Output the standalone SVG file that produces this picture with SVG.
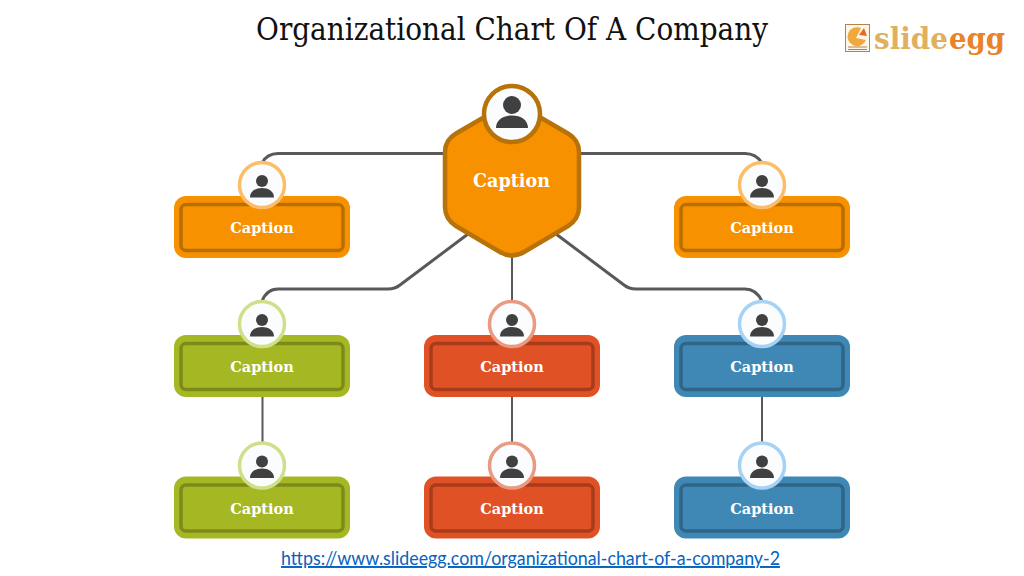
<svg xmlns="http://www.w3.org/2000/svg" width="1024" height="576" viewBox="0 0 1024 576">
<style>
.title{font:31px "DejaVu Serif","Liberation Serif",serif;fill:#111}
.cap{font:bold 14.500px "DejaVu Serif","Liberation Serif",serif;fill:#fff;text-anchor:middle}
.link{font:19.500px Lato,"Open Sans",sans-serif;fill:#0563c1;text-decoration:underline;text-anchor:middle}
.logo{font:bold 30px "DejaVu Serif",serif}
.c{fill:none;stroke:#595959;stroke-linecap:round}
.o{fill:var(--a)}
.i{fill:none;stroke:var(--b);stroke-width:3.5}
.av{fill:#fbfcfd;stroke:var(--d);stroke-width:3.5}
.p{fill:#404040}
.or{--a:#f79100;--b:#b86f00;--d:#fbbd68}
.gr{--a:#a5b723;--b:#7c8a1a;--d:#d0e08a}
.re{--a:#e05225;--b:#a83c1a;--d:#ea9a80}
.bl{--a:#3f88b5;--b:#2f6688;--d:#a5d2f5}
</style>
<defs>
<g id="card">
<rect class="o" x="-88" y="11" width="176" height="62" rx="12"/>
<rect class="i" x="-81" y="19.500" width="162" height="46" rx="5"/>
<circle class="av" cx="0" cy="0" r="22.500"/>
<circle class="p" cx="0" cy="-4" r="6"/>
<path class="p" d="M-12 12.500C-12 6-6 3 0 3S12 6 12 12.500Z"/>
</g>
</defs>
<text class="title" x="512" y="40" text-anchor="middle" textLength="512" lengthAdjust="spacingAndGlyphs">Organizational Chart Of A Company</text>
<g id="connectors">
<g class="c" stroke-width="3">
<path d="M445 153.500H278Q267 153.500 262 163"/>
<path d="M580 153.500H745Q756 153.500 762 163"/>
<path d="M468 234L400 285Q395 289 388 289H278Q267 289 262 301"/>
<path d="M556 234L624 285Q629 289 636 289H745Q756 289 762 301"/>
</g>
<g class="c" stroke-width="2">
<path d="M512 256V302"/>
<path d="M262.500 397V444"/>
<path d="M512 397V444"/>
<path d="M762 397V444"/>
</g>
</g>
<g id="root">
<path d="M500 108Q512 101 524 108L568 133.500Q579 140 579 152V207Q579 219 568 226L524 252Q512 259 500 252L456 226Q445 219 445 207V152Q445 140 456 133.500Z" fill="#f79100" stroke="#b8720a" stroke-width="4.500"/>
<circle cx="512" cy="114" r="28" fill="#fbfcfd" stroke="#b8720a" stroke-width="4.500"/>
<circle class="p" cx="512" cy="105" r="9"/>
<path class="p" d="M496 128C496 120 503 115.500 512 115.500S528 120 528 128Z"/>
<text x="511.500" y="187" text-anchor="middle" textLength="77" lengthAdjust="spacingAndGlyphs" style="font:bold 18px 'DejaVu Serif',serif;fill:#fff">Caption</text>
</g>
<g id="n1" class="or"><use href="#card" x="262" y="185"/><text class="cap" x="262" y="233">Caption</text></g>
<g id="n2" class="or"><use href="#card" x="762" y="185"/><text class="cap" x="762" y="233">Caption</text></g>
<g id="n3" class="gr"><use href="#card" x="262" y="324"/><text class="cap" x="262" y="372">Caption</text></g>
<g id="n4" class="re"><use href="#card" x="512" y="324"/><text class="cap" x="512" y="372">Caption</text></g>
<g id="n5" class="bl"><use href="#card" x="762" y="324"/><text class="cap" x="762" y="372">Caption</text></g>
<g id="n6" class="gr"><use href="#card" x="262" y="465.500"/><text class="cap" x="262" y="514">Caption</text></g>
<g id="n7" class="re"><use href="#card" x="512" y="465.500"/><text class="cap" x="512" y="514">Caption</text></g>
<g id="n8" class="bl"><use href="#card" x="762" y="465.500"/><text class="cap" x="762" y="514">Caption</text></g>
<g id="logo">
<rect x="845.500" y="24.500" width="24" height="27" fill="#fdf6ea" stroke="#b5824a"/>
<path d="M861 28A9.500 9.500 0 1 0 866 40L856 38Z" fill="#f0a83c"/>
<path d="M859 35L864 28L867 36Z" fill="#e8691c"/>
<path d="M848 47H867M848 49.500H867" stroke="#b5824a"/>
<text class="logo" x="874" y="48.500" textLength="74" lengthAdjust="spacingAndGlyphs" fill="#dfb15f">slide</text>
<text class="logo" x="949" y="48.500" textLength="56" lengthAdjust="spacingAndGlyphs" fill="#e8832a">egg</text>
</g>
<text class="link" x="530.500" y="565" textLength="499" lengthAdjust="spacingAndGlyphs">https://www.slideegg.com/organizational-chart-of-a-company-2</text>
</svg>
